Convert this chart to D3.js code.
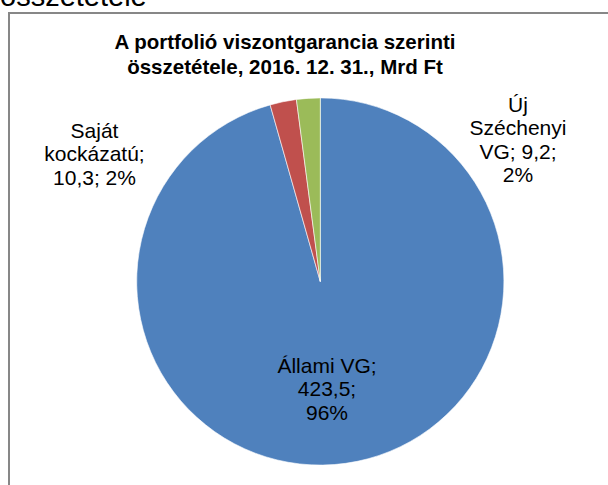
<!DOCTYPE html>
<html>
<head>
<meta charset="utf-8">
<script src="https://cdn.jsdelivr.net/npm/d3@7"></script>
<style>
	html, body { margin: 0; background: #fff; }
	svg { display: block; font-family: 'Liberation Sans', Arial, sans-serif; }
</style>
</head>
<body>
<script>
// data (Mrd Ft)
const categories = ['Állami VG', 'Saját kockázatú', 'Új Széchenyi VG']
const values = [423.5, 10.3, 9.2]
const shares = ['96%', '2%', '2%']
const colors = ['#4F81BD', '#C0504D', '#9BBB59']
const titleLines = ['A portfolió viszontgarancia szerinti', 'összetétele, 2016. 12. 31., Mrd Ft']

// label text lines, broken like in the picture
const labelLines = [
	['Állami VG;', '423,5;', '96%'],
	['Saját', 'kockázatú;', '10,3; 2%'],
	['Új', 'Széchenyi', 'VG; 9,2;', '2%'],
]

const W = 608, H = 485
const cx = 320.3, cy = 281.5, r = 183.6

const svg = d3.select('body').append('svg').attr('width', W).attr('height', H)

// cut-off heading of the page above the chart
svg.append('text')
	.attr('x', 0).attr('y', 6)
	.attr('font-size', 29)
	.attr('fill', '#000')
	.text('összetétele')

// chart frame (runs off the right and bottom edge)
svg.append('rect')
	.attr('x', 9).attr('y', 13)
	.attr('width', W + 20).attr('height', H + 20)
	.attr('fill', 'none')
	.attr('stroke', '#878787')
	.attr('stroke-width', 2)

svg.append('text')
	.attr('text-anchor', 'middle')
	.attr('font-weight', 'bold')
	.attr('font-size', 20.5)
	.selectAll('tspan')
	.data(titleLines)
	.join('tspan')
	.attr('x', 285)
	.attr('y', (d, i) => 49 + i * 24.5)
	.text(d => d)

const pie = d3.pie().sort(null).value(d => d)
const arcs = pie(values)
const arc = d3.arc().innerRadius(0).outerRadius(r)

const g = svg.append('g').attr('transform', `translate(${cx},${cy})`)

g.selectAll('path')
	.data(arcs)
	.join('path')
	.attr('d', arc)
	.attr('fill', (d, i) => colors[i])
	.attr('stroke', '#fff')
	.attr('stroke-width', 0.6)

// label anchors (text centre x, first baseline y)
const labelPos = [[327, 373], [94.5, 138], [518, 112]]
const lineH = 23.4

svg.append('g')
	.selectAll('text')
	.data(labelLines)
	.join('text')
	.attr('text-anchor', 'middle')
	.attr('font-size', 21)
	.attr('fill', '#000')
	.each(function (lines, i) {
		d3.select(this).selectAll('tspan')
			.data(lines)
			.join('tspan')
			.attr('x', labelPos[i][0])
			.attr('y', (d, j) => labelPos[i][1] + j * lineH)
			.text(d => d)
	})
</script>
</body>
</html>
